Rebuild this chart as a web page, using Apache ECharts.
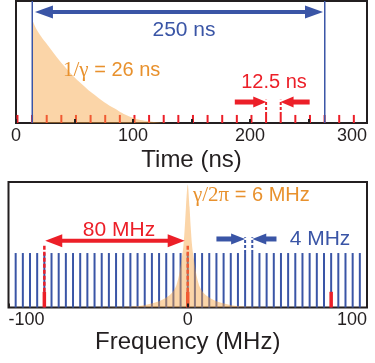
<!DOCTYPE html>
<html>
<head>
<meta charset="utf-8">
<script src="https://cdn.jsdelivr.net/npm/echarts@6/dist/echarts.min.js"></script>
<style>
  html, body { margin: 0; padding: 0; background: #fff; }
  #chart { width: 375px; height: 363px; }
</style>
</head>
<body>
<div id="chart"></div>
<script>
// ---- top panel: pulse train vs time (ns)
const pulseTimes = [1.25, 13.75, 26.25, 38.75, 51.25, 63.75, 76.25, 88.75, 101.25, 113.75, 126.25, 138.75,
  151.25, 163.75, 176.25, 188.75, 201.25, 213.75, 226.25, 238.75, 251.25, 263.75, 276.25, 288.75]
const pulseLevel = 0.066
const markedPulses = [213.75, 226.25]
const windowEdges = [13.9, 263.9]
const decayTime = [13.9, 18, 27, 41, 55, 70, 84, 98, 115, 130]
const decayLevel = [0.85, 0.76, 0.64, 0.47, 0.33, 0.21, 0.12, 0.05, 0.012, 0]

// ---- bottom panel: comb vs frequency (MHz)
const combFreqs = [-96, -92, -88, -84, -80, -76, -72, -68, -64, -60, -56, -52, -48, -44, -40, -36, -32,
  -28, -24, -20, -16, -12, -8, -4, 0, 4, 8, 12, 16, 20, 24, 28, 32, 36, 40, 44, 48, 52, 56, 60, 64,
  68, 72, 76, 80, 84, 88, 92, 96]
const combLevel = 0.434
const modeFreqs = [-80, 0, 80]
const modeLevel = 0.125
const guideFreqs = [-80, 0]
const spacingFreqs = [32, 36]
const lineFreq = [-55, -40, -27, -16, -10, -7, -5, -3.6, -2.5, -1.7, -1, 0, 1, 1.7, 2.5, 3.6, 5, 7, 10, 16, 27, 40, 55]
const lineLevel = [0, 0.004, 0.012, 0.05, 0.1, 0.155, 0.25, 0.37, 0.48, 0.63, 0.8, 0.98, 0.8, 0.63, 0.48, 0.37, 0.25, 0.155, 0.1, 0.05, 0.012, 0.004, 0]

const BLUE = '#3a55a6'
const RED = '#ec1f28'
const ORANGE = '#e8912d'
const FILL = 'rgba(247,162,62,0.45)'
const INK = '#231f20'
const SANS = '"Liberation Sans", Arial, sans-serif'

function sticks(xi, rows, color, width, dash, z) {
  return {
    type: 'custom',
    xAxisIndex: xi,
    yAxisIndex: xi,
    z: z,
    silent: true,
    data: rows,
    renderItem: function (params, api) {
      const a = api.coord([api.value(0), api.value(1)])
      const b = api.coord([api.value(0), api.value(2)])
      return {
        type: 'line',
        shape: { x1: a[0], y1: a[1], x2: b[0], y2: b[1] },
        style: { stroke: color, lineWidth: width, lineDash: dash || null }
      }
    }
  }
}

function arrows(xi, rows, color, shaft, headLen, headW) {
  return {
    type: 'custom',
    xAxisIndex: xi,
    yAxisIndex: xi,
    z: 8,
    silent: true,
    data: rows,
    renderItem: function (params, api) {
      const a = api.coord([api.value(0), api.value(1)])
      const b = api.coord([api.value(2), api.value(3)])
      const dx = b[0] - a[0], dy = b[1] - a[1]
      const len = Math.hypot(dx, dy)
      const ux = dx / len, uy = dy / len
      const nx = -uy, ny = ux
      const head = function (tip, sx, sy) {
        const bx = tip[0] - sx * headLen, by = tip[1] - sy * headLen
        return {
          type: 'polygon',
          shape: { points: [tip, [bx + nx * headW / 2, by + ny * headW / 2], [bx - nx * headW / 2, by - ny * headW / 2]] },
          style: { fill: color }
        }
      }
      const kids = []
      let s = a, e = b
      if (api.value(4)) {
        kids.push(head(a, -ux, -uy))
        s = [a[0] + ux * headLen * 0.8, a[1] + uy * headLen * 0.8]
      }
      if (api.value(5)) {
        kids.push(head(b, ux, uy))
        e = [b[0] - ux * headLen * 0.8, b[1] - uy * headLen * 0.8]
      }
      kids.unshift({
        type: 'line',
        shape: { x1: s[0], y1: s[1], x2: e[0], y2: e[1] },
        style: { stroke: color, lineWidth: shaft }
      })
      return { type: 'group', children: kids }
    }
  }
}

function label(text, x, y, color, size, align) {
  return {
    type: 'text',
    x: x,
    y: y,
    z: 20,
    style: {
      text: text,
      fill: color,
      font: size + 'px ' + SANS,
      align: align || 'center',
      verticalAlign: 'middle',
      rich: {
        g: { fontFamily: '"Liberation Serif", serif', fontSize: size + 1, fill: color }
      }
    }
  }
}

const chart = echarts.init(document.getElementById('chart'))

chart.setOption({
  animation: false,
  grid: [
    { left: 16, right: 8, top: 1, height: 122, show: true, borderColor: INK, borderWidth: 2, backgroundColor: 'transparent' },
    { left: 8.5, right: 8, top: 182, height: 125.5, show: true, borderColor: INK, borderWidth: 2, backgroundColor: 'transparent' }
  ],
  xAxis: [
    {
      type: 'value', gridIndex: 0, min: 0, max: 300, interval: 50, z: 10,
      name: 'Time (ns)', nameLocation: 'middle', nameGap: 25,
      nameTextStyle: { fontFamily: SANS, fontSize: 24, color: INK },
      axisLine: { show: false },
      axisTick: { inside: true, length: 4, lineStyle: { color: INK, width: 2 } },
      splitLine: { show: false },
      axisLabel: {
        margin: 4, fontFamily: SANS, fontSize: 18, color: INK,
        alignMaxLabel: 'right',
        formatter: function (v) { return v % 100 === 0 ? String(v) : '' }
      }
    },
    {
      type: 'value', gridIndex: 1, min: -100, max: 100, interval: 100, z: 10,
      name: 'Frequency (MHz)', nameLocation: 'middle', nameGap: 19,
      nameTextStyle: { fontFamily: SANS, fontSize: 24, color: INK },
      axisLine: { show: false },
      axisTick: { inside: true, length: 4, lineStyle: { color: INK, width: 2 } },
      splitLine: { show: false },
      axisLabel: {
        margin: 4, fontFamily: SANS, fontSize: 18, color: INK,
        alignMinLabel: 'left', alignMaxLabel: 'right'
      }
    }
  ],
  yAxis: [
    { type: 'value', gridIndex: 0, min: 0, max: 1, show: false, splitLine: { show: false } },
    { type: 'value', gridIndex: 1, min: 0, max: 1, show: false, splitLine: { show: false } }
  ],
  series: [
    // top
    sticks(0, pulseTimes.map(t => [t, 0, pulseLevel]), RED, 2, null, 2),
    sticks(0, markedPulses.map(t => [t, pulseLevel, 0.19]), RED, 2, [3, 2], 2),
    {
      type: 'line', xAxisIndex: 0, yAxisIndex: 0, z: 3, silent: true,
      data: decayTime.map((t, i) => [t, decayLevel[i]]),
      smooth: 0.5, symbol: 'none',
      lineStyle: { width: 0 },
      areaStyle: { color: FILL, opacity: 1 }
    },
    sticks(0, windowEdges.map(t => [t, 0, 1]), BLUE, 1.5, null, 5),
    arrows(0, [[16.2, 0.91, 262.4, 0.91, 1, 1]], BLUE, 4, 18, 13),
    arrows(0, [[187, 0.172, 213.9, 0.172, 0, 1], [251, 0.172, 226.1, 0.172, 0, 1]], RED, 5, 13, 11),

    // bottom
    sticks(1, combFreqs.map(f => [f, 0, combLevel]), BLUE, 2, null, 2),
    sticks(1, modeFreqs.map(f => [f, 0, modeLevel]), RED, 3.5, null, 3),
    sticks(1, guideFreqs.map(f => [f, modeLevel, 0.5]), RED, 2.5, [4, 2], 3),
    sticks(1, spacingFreqs.map(f => [f, combLevel, 0.56]), BLUE, 2, [3, 2], 3),
    {
      type: 'line', xAxisIndex: 1, yAxisIndex: 1, z: 4, silent: true,
      data: lineFreq.map((f, i) => [f, lineLevel[i]]),
      smooth: 0.3, symbol: 'none',
      lineStyle: { width: 0 },
      areaStyle: { color: FILL, opacity: 1 }
    },
    arrows(1, [[-79.5, 0.532, -1.7, 0.532, 1, 1]], RED, 4, 17, 13),
    arrows(1, [[16, 0.546, 32, 0.546, 0, 1], [49.5, 0.546, 36, 0.546, 0, 1]], BLUE, 5, 14, 11)
  ],
  graphic: [
    label('250 ns', 184, 30, BLUE, 21),
    label('{g|1/γ} = 26 ns', 63, 70, ORANGE, 20, 'left'),
    label('12.5 ns', 274, 82, RED, 20),
    label('{g|γ/2π} = 6 MHz', 193, 195, ORANGE, 20, 'left'),
    label('80 MHz', 119, 230, RED, 21),
    label('4 MHz', 320, 239, BLUE, 21)
  ]
})
</script>
</body>
</html>
